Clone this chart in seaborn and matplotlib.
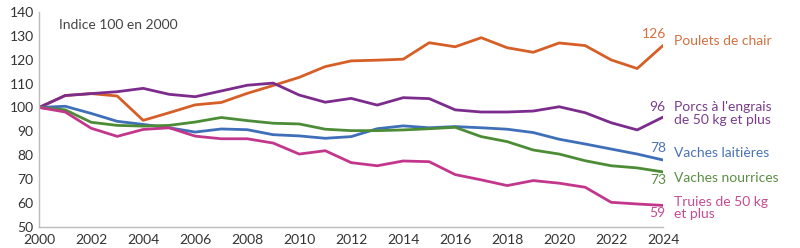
import matplotlib
matplotlib.use("Agg")
import matplotlib.pyplot as plt
import seaborn as sns
import pandas as pd

# Indice 100 en 2000
years = list(range(2000, 2025))

poulets = [100, 105, 105.8, 104.8, 94.6, 97.8, 101.1, 102.1, 105.9, 109.2,
           112.6, 117.1, 119.5, 119.8, 120.2, 127.1, 125.4, 129.2, 125.0, 123.1,
           127.0, 125.9, 119.9, 116.3, 126]
porcs = [100, 105, 105.8, 106.6, 108.0, 105.5, 104.5, 106.9, 109.3, 110.2,
         105.2, 102.2, 103.8, 101.0, 104.1, 103.7, 99.0, 98.1, 98.1, 98.5,
         100.3, 97.8, 93.6, 90.6, 96]
laitieres = [100, 100.5, 97.5, 94.2, 92.9, 91.5, 89.7, 91.0, 90.7, 88.6,
             88.1, 87.1, 87.8, 91.1, 92.3, 91.5, 92.0, 91.5, 90.9, 89.5,
             86.7, 84.7, 82.6, 80.5, 78]
nourrices = [100, 99.0, 93.8, 92.5, 92.2, 92.5, 93.9, 95.8, 94.5, 93.4,
             93.1, 90.9, 90.3, 90.3, 90.6, 91.1, 91.7, 87.8, 85.7, 82.2,
             80.5, 77.7, 75.6, 74.7, 73]
truies = [100, 98.1, 91.3, 87.9, 90.8, 91.5, 88.0, 86.9, 86.9, 85.1,
          80.5, 81.9, 76.9, 75.6, 77.6, 77.3, 71.9, 69.7, 67.3, 69.4,
          68.3, 66.6, 60.3, 59.6, 59]

line_colors = ["#D65F28", "#7C2C8C", "#3F6FB8", "#4C8C36", "#C2378C"]
text_colors = ["#D2703F", "#7B3C8C", "#4A72B4", "#5B8D45", "#C44B93"]
names = ["Poulets de chair", "Porcs à l'engrais\nde 50 kg et plus",
         "Vaches laitières", "Vaches nourrices", "Truies de 50 kg\net plus"]
end_values = ["126", "96", "78", "73", "59"]
# y positions of labels (data units)
value_y = [130.8, 100.3, 83.0, 69.6, 55.9]
name_y = [127.8, 97.5, 81.0, 70.6, 58.0]

series = [poulets, porcs, laitieres, nourrices, truies]

sns.set_style("white")
plt.rcParams['font.family'] = ['Lato', 'DejaVu Sans']

fig, ax = plt.subplots(figsize=(8, 2.48), dpi=100)
fig.subplots_adjust(left=0.049, right=0.829, top=0.952, bottom=0.085)

for vals, c in zip(series, line_colors):
    df = pd.DataFrame({"annee": years, "indice": vals})
    sns.lineplot(data=df, x="annee", y="indice", color=c, linewidth=2, ax=ax)

for i in range(len(series)):
    ax.text(2024.1, value_y[i], end_values[i], color=text_colors[i],
            fontsize=10, ha="right", va="center", clip_on=False)
    ax.text(2024.4, name_y[i], names[i], color=text_colors[i],
            fontsize=10, ha="left", va="center", linespacing=1.05, clip_on=False)

ax.text(2000.75, 134.5, "Indice 100 en 2000", fontsize=10, color="#444444",
        ha="left", va="center")

ax.set_xlim(2000, 2024)
ax.set_ylim(50, 140)
ax.set_xticks(range(2000, 2025, 2))
ax.set_xticks(range(2000, 2025, 1), minor=True)
ax.set_yticks(range(50, 141, 10))
ax.set_xlabel("")
ax.set_ylabel("")

for s in ["top", "right"]:
    ax.spines[s].set_visible(False)
for s in ["left", "bottom"]:
    ax.spines[s].set_color("#bbbbbb")
    ax.spines[s].set_linewidth(1)

ax.tick_params(axis="both", which="both", direction="out", color="#bbbbbb",
               labelsize=10, labelcolor="#333333")
ax.tick_params(axis="x", which="major", length=4, pad=1)
ax.tick_params(axis="x", which="minor", length=4)
ax.tick_params(axis="y", length=3, pad=1)

fig.savefig("out.png", dpi=100)
